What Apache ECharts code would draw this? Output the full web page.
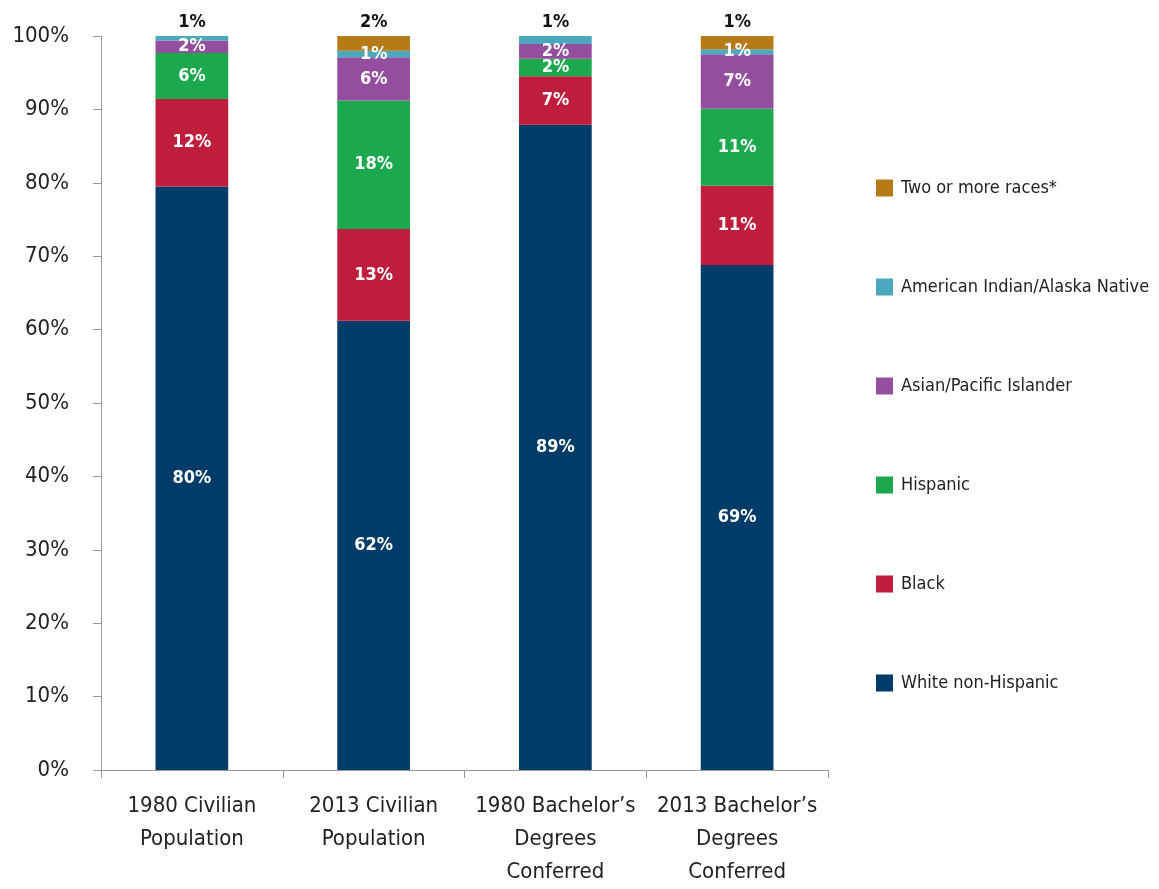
<!DOCTYPE html>
<html><head><meta charset="utf-8">
<script src="https://cdn.jsdelivr.net/npm/echarts@6/dist/echarts.min.js"></script>
<style>html,body{margin:0;padding:0;background:#fff}#c{width:1159px;height:889px}</style>
</head><body><div id="c"></div>
<script>
const categories = ['1980 Civilian\nPopulation', '2013 Civilian\nPopulation', "1980 Bachelor’s\nDegrees\nConferred", "2013 Bachelor’s\nDegrees\nConferred"];
const seriesNames = ['White non-Hispanic', 'Black', 'Hispanic', 'Asian/Pacific Islander', 'American Indian/Alaska Native', 'Two or more races*'];
const white = [79.5, 61.2, 87.9, 68.8];
const black = [11.9, 12.5, 6.6, 10.8];
const hispanic = [6.3, 17.5, 2.4, 10.5];
const asian = [1.7, 5.9, 2.0, 7.4];
const amind = [0.6, 0.9, 1.1, 0.7];
const twoMore = [0, 2.0, 0, 1.8];
const whiteLbl = ['80%', '62%', '89%', '69%'];
const blackLbl = ['12%', '13%', '7%', '11%'];
const hispanicLbl = ['6%', '18%', '2%', '11%'];
const asianLbl = ['2%', '6%', '2%', '7%'];
const amindLbl = ['1%', '1%', '1%', '1%'];
const twoMoreLbl = ['', '2%', '', '1%'];
const colors = ['#003c67', '#be1e3c', '#1ca84c', '#934f9e', '#4ba8bd', '#b67a16'];
const FONT = '"DejaVu Sans Condensed", "Liberation Sans Narrow", "Liberation Sans", sans-serif';

const values = [white, black, hispanic, asian, amind, twoMore];
const labels = [whiteLbl, blackLbl, hispanicLbl, asianLbl, amindLbl, twoMoreLbl];

const inLabel = {show: true, position: 'inside', color: '#fff', fontWeight: 'bold', fontSize: 18, fontFamily: FONT};
const topLabel = {show: true, position: 'top', distance: 5, color: '#111', fontWeight: 'bold', fontSize: 18, fontFamily: FONT};

const series = seriesNames.map((name, si) => ({
  name, type: 'bar', stack: 'a', barWidth: '40%',
  itemStyle: {color: colors[si]},
  data: values[si].map((v, ci) => {
    const txt = labels[si][ci];
    let label;
    const isTop = values.slice(si + 1).every(arr => !arr[ci]);
    if (!txt || v === 0) label = {show: false};
    else if (isTop) label = Object.assign({}, topLabel, {formatter: txt});
    else label = Object.assign({}, inLabel, {formatter: txt});
    return {value: v, label};
  })
}));

const chart = echarts.init(document.getElementById('c'));
chart.setOption({
  animation: false,
  textStyle: {fontFamily: FONT},
  grid: {left: 101, right: 331, top: 36, bottom: 116},
  legend: {
    orient: 'vertical', left: 871, top: 174,
    data: seriesNames.slice().reverse(),
    itemWidth: 17, itemHeight: 17, itemGap: 81,
    icon: 'rect',
    textStyle: {fontSize: 18, color: '#222', fontFamily: FONT, lineHeight: 17, padding: [0, 0, 0, 3]}
  },
  xAxis: {
    type: 'category', data: categories,
    axisLine: {lineStyle: {color: '#999', width: 1}},
    axisTick: {show: true, length: 8, interval: 0, lineStyle: {color: '#999'}},
    axisLabel: {interval: 0, fontSize: 22, color: '#222', lineHeight: 33, margin: 20, fontFamily: FONT}
  },
  yAxis: {
    type: 'value', min: 0, max: 100, interval: 10,
    axisLine: {show: true, lineStyle: {color: '#999', width: 1}},
    axisTick: {show: true, length: 8, lineStyle: {color: '#999'}},
    splitLine: {show: false},
    axisLabel: {formatter: '{value}%', fontSize: 22, color: '#222', margin: 32, fontFamily: FONT}
  },
  series
});
</script></body></html>
